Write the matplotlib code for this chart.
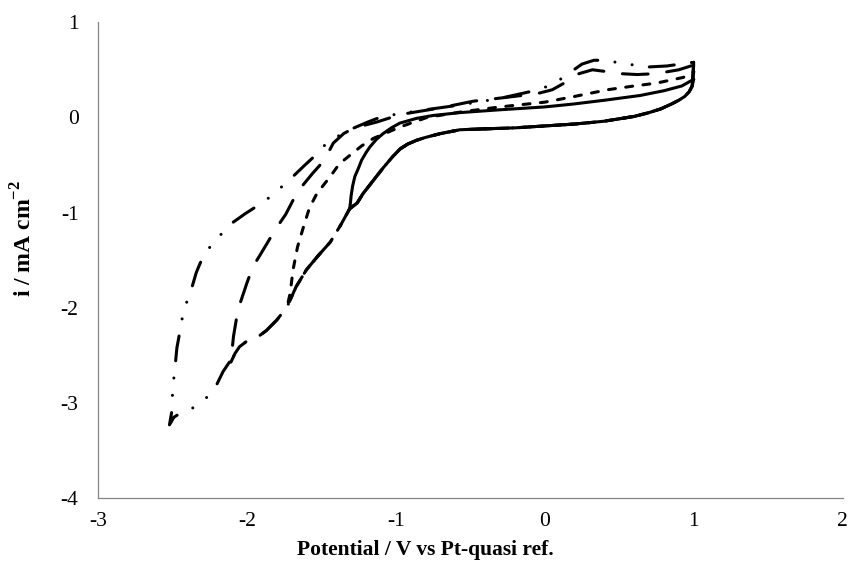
"""Cyclic voltammograms at four switching potentials, Excel-like styling."""
import matplotlib
matplotlib.use("Agg")
import matplotlib.pyplot as plt
import numpy as np

plt.rcParams["font.family"] = ["Liberation Serif", "DejaVu Serif"]
plt.rcParams["mathtext.fontset"] = "custom"
plt.rcParams["mathtext.rm"] = "Liberation Serif"
plt.rcParams["mathtext.bf"] = "Liberation Serif:bold"
plt.rcParams["axes.unicode_minus"] = False
plt.rcParams["lines.scale_dashes"] = False

# common cathodic (forward) branch, from +1.0 V going negative
lower_x = [0.99, 0.97, 0.94, 0.90, 0.85, 0.78, 0.70, 0.60, 0.40, 0.20, 0.0, -0.2,
           -0.4, -0.57, -0.70, -0.80, -0.86, -0.92, -0.97, -1.02, -1.085, -1.15,
           -1.22, -1.26, -1.31]
lower_y = [0.33, 0.27, 0.22, 0.18, 0.14, 0.09, 0.05, 0.01, -0.04, -0.07, -0.09, -0.11,
           -0.12, -0.13, -0.17, -0.21, -0.24, -0.28, -0.33, -0.41, -0.53, -0.66,
           -0.80, -0.90, -0.96]

# extensions of the cathodic branch for the wider scans
ext17_x = [-1.37, -1.44, -1.52, -1.60, -1.67, -1.73]
ext17_y = [-1.13, -1.31, -1.45, -1.60, -1.78, -1.99]
ext21_x = [-1.77, -1.80, -1.87, -1.93, -2.00, -2.05, -2.08, -2.11]
ext21_y = [-2.07, -2.13, -2.24, -2.31, -2.35, -2.41, -2.48, -2.58]
ext25_x = [-2.10, -2.16, -2.21, -2.28, -2.36, -2.44, -2.49, -2.52]
ext25_y = [-2.53, -2.67, -2.83, -2.96, -3.05, -3.10, -3.15, -3.23]

# return (anodic) branches, from the vertex back to +1.0 V
up13_x = [-1.305, -1.30, -1.29, -1.275, -1.25, -1.23, -1.20, -1.174, -1.13, -1.085,
          -1.03, -0.973, -0.86, -0.75, -0.57, -0.3, 0.0, 0.19, 0.4, 0.64, 0.8, 0.92, 1.0]
up13_y = [-0.90, -0.82, -0.72, -0.62, -0.53, -0.45, -0.37, -0.31, -0.23, -0.17,
          -0.11, -0.06, -0.01, 0.02, 0.05, 0.08, 0.11, 0.14, 0.18, 0.23, 0.28, 0.33, 0.40]
up17_x = [-1.71, -1.69, -1.66, -1.62, -1.58, -1.53, -1.44, -1.38, -1.31, -1.23,
          -1.15, -0.97, -0.79, -0.55, -0.3, 0.0, 0.2, 0.42, 0.6, 0.75, 0.93, 1.0]
up17_y = [-1.85, -1.60, -1.36, -1.15, -0.95, -0.80, -0.62, -0.49, -0.40, -0.30,
          -0.22, -0.10, 0.0, 0.06, 0.11, 0.16, 0.22, 0.29, 0.33, 0.36, 0.42, 0.48]
up21_x = [-2.10, -2.09, -2.06, -2.03, -2.00, -1.96, -1.89, -1.81, -1.74, -1.66,
          -1.56, -1.48, -1.42, -1.35, -1.28, -1.13, -0.97, -0.7, -0.48, -0.26,
          -0.05, 0.05, 0.13, 0.21, 0.32, 0.42, 0.5, 0.62, 0.75, 0.9, 1.0]
up21_y = [-2.45, -2.30, -2.02, -1.88, -1.74, -1.57, -1.39, -1.18, -1.02, -0.78,
          -0.59, -0.45, -0.27, -0.17, -0.11, -0.05, 0.03, 0.10, 0.17, 0.21,
          0.25, 0.29, 0.36, 0.45, 0.50, 0.48, 0.46, 0.45, 0.46, 0.50, 0.55]
up25_x = [-2.50, -2.50, -2.48, -2.47, -2.45, -2.43, -2.40, -2.37, -2.34, -2.30,
          -2.23, -2.10, -2.01, -1.92, -1.83, -1.69, -1.61, -1.52, -1.46, -1.31,
          -1.19, -1.09, -0.8, -0.57, -0.3, -0.1, 0.05, 0.15, 0.25, 0.33, 0.42,
          0.5, 0.7, 0.82, 1.0]
up25_y = [-3.05, -2.88, -2.58, -2.42, -2.25, -2.07, -1.92, -1.79, -1.63, -1.48,
          -1.32, -1.11, -1.01, -0.92, -0.82, -0.62, -0.50, -0.37, -0.26, -0.13,
          -0.05, 0.01, 0.08, 0.13, 0.20, 0.27, 0.34, 0.45, 0.56, 0.60, 0.60,
          0.57, 0.53, 0.54, 0.58]


def loop(start_y, ext_x, ext_y, up_x, up_y):
    xs = [1.0] + lower_x + ext_x + up_x
    ys = [start_y] + lower_y + ext_y + up_y
    return np.array(xs), np.array(ys)


curves = [
    (loop(0.40, [], [], up13_x, up13_y), "-"),
    (loop(0.48, ext17_x, ext17_y, up17_x, up17_y), (0, (5, 7.5))),
    (loop(0.55, ext17_x + ext21_x, ext17_y + ext21_y, up21_x, up21_y), (0, (18.5, 13.5))),
    (loop(0.58, ext17_x + ext21_x + ext25_x, ext17_y + ext21_y + ext25_y, up25_x, up25_y),
     (0, (18, 12.5, 0.01, 12.5, 0.01, 12.5))),
]

fig = plt.figure(figsize=(8.52, 5.84), dpi=100)
ax = fig.add_axes([0.115, 0.147, 0.874, 0.815])

for (xs, ys), ls in curves:
    ax.plot(xs, ys, color="black", lw=2.2, linestyle=ls,
            dash_capstyle="round", solid_capstyle="round", solid_joinstyle="round")

ax.set_xlim(-3, 2)
ax.set_ylim(-4, 1)
ax.set_xticks(range(-3, 3))
ax.set_yticks(range(-4, 2))
ax.spines["top"].set_visible(False)
ax.spines["right"].set_visible(False)
for s in ("left", "bottom"):
    ax.spines[s].set_color("#868686")
    ax.spines[s].set_linewidth(0.9)
ax.tick_params(length=0, labelsize=15.5)
ax.tick_params(axis="x", pad=10)
ax.tick_params(axis="y", pad=14)

ax.set_xlabel("Potential / V vs Pt-quasi ref.", fontsize=15.5, fontweight="bold")
ax.xaxis.set_label_coords(0.44, -0.088)
ax.set_ylabel(r"i / mA cm$^{\mathbf{-2}}$", fontsize=17, fontweight="bold")
ax.yaxis.set_label_coords(-0.083, 0.545)

fig.savefig("out.png", dpi=100)
